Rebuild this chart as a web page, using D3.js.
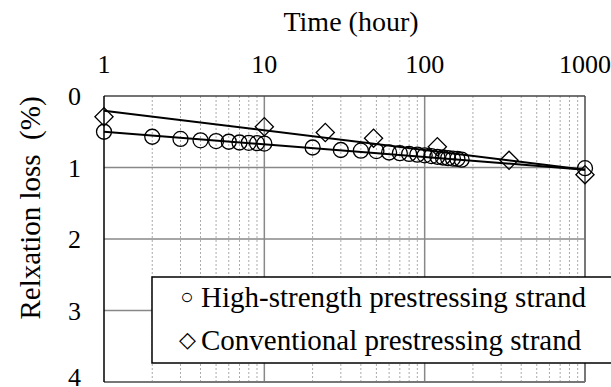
<!DOCTYPE html>
<html>
<head>
<meta charset="utf-8">
<script src="https://cdn.jsdelivr.net/npm/d3@7"></script>
<style>
  body { margin: 0; background: #fff; }
</style>
</head>
<body>
<div id="chart"></div>
<script>
var width = 611,
    height = 387;

// high-strength strand (circles)
var highHours = [1, 2, 3, 4, 5, 6, 7, 8, 9, 10, 20, 30, 40, 50, 60, 70, 80, 90, 100, 110, 120, 130, 140, 150, 160, 170, 1000];
var highLoss  = [0.50, 0.57, 0.60, 0.62, 0.63, 0.64, 0.65, 0.655, 0.66, 0.665, 0.72, 0.755, 0.765, 0.77, 0.79, 0.80, 0.81, 0.82, 0.83, 0.84, 0.85, 0.86, 0.87, 0.875, 0.88, 0.89, 1.01];

// conventional strand (diamonds)
var convHours = [1, 10, 24, 48, 120, 336, 1000];
var convLoss  = [0.29, 0.43, 0.51, 0.59, 0.71, 0.90, 1.10];

// fitted trend lines (end points)
var highFit = [[1, 0.50], [1000, 1.03]];
var convFit = [[1, 0.205], [1000, 1.03]];

var xTicks = [1, 10, 100, 1000];
var yTicks = [0, 1, 2, 3, 4];
var legendLabels = ["High-strength prestressing strand", "Conventional prestressing strand"];
var legendGlyphs = ["\u25CB", "\u25C7"];

var serif = "'Liberation Serif', 'Times New Roman', serif";

var svg = d3.select("#chart").append("svg")
    .attr("width", width)
    .attr("height", height)
    .attr("font-family", serif);

var x = d3.scaleLog().domain([1, 1000]).range([104, 585]);
var y = d3.scaleLinear().domain([0, 4]).range([96, 382]);

// minor grid (dashed)
var minor = [];
[1, 10, 100].forEach(function (dec) {
    for (var k = 2; k <= 9; k++) minor.push(dec * k);
});
svg.selectAll("line.minor")
    .data(minor)
    .enter().append("line")
    .attr("class", "minor")
    .attr("x1", function (d) { return x(d); })
    .attr("x2", function (d) { return x(d); })
    .attr("y1", y(0))
    .attr("y2", y(4))
    .style("stroke", "#aaa")
    .style("stroke-width", 1)
    .style("stroke-dasharray", "2,2");

// major grid
svg.selectAll("line.vmajor")
    .data([10, 100])
    .enter().append("line")
    .attr("class", "vmajor")
    .attr("x1", function (d) { return x(d); })
    .attr("x2", function (d) { return x(d); })
    .attr("y1", y(0))
    .attr("y2", y(4))
    .style("stroke", "#888")
    .style("stroke-width", 1.5);

svg.selectAll("line.hmajor")
    .data([1, 2, 3])
    .enter().append("line")
    .attr("class", "hmajor")
    .attr("x1", x(1))
    .attr("x2", x(1000))
    .attr("y1", function (d) { return y(d); })
    .attr("y2", function (d) { return y(d); })
    .style("stroke", "#888")
    .style("stroke-width", 1.5);

// frame
svg.append("line").attr("x1", x(1000)).attr("x2", x(1000)).attr("y1", y(0)).attr("y2", y(4))
    .style("stroke", "#777").style("stroke-width", 2);
svg.append("line").attr("x1", x(1)).attr("x2", x(1000)).attr("y1", y(4)).attr("y2", y(4))
    .style("stroke", "#777").style("stroke-width", 2);
svg.append("line").attr("x1", x(1)).attr("x2", x(1000)).attr("y1", y(0)).attr("y2", y(0))
    .style("stroke", "#444").style("stroke-width", 1.5);
svg.append("line").attr("x1", x(1)).attr("x2", x(1)).attr("y1", y(0)).attr("y2", y(4))
    .style("stroke", "#000").style("stroke-width", 1.5);

// tick labels
svg.selectAll("text.xt")
    .data(xTicks)
    .enter().append("text")
    .attr("class", "xt")
    .attr("x", function (d) { return x(d); })
    .attr("y", 73)
    .attr("text-anchor", "middle")
    .style("font-size", "26px")
    .text(function (d) { return d; });

svg.selectAll("text.yt")
    .data(yTicks)
    .enter().append("text")
    .attr("class", "yt")
    .attr("x", 81)
    .attr("y", function (d) { return Math.min(y(d) + 9, 386); })
    .attr("text-anchor", "end")
    .style("font-size", "26px")
    .text(function (d) { return d; });

svg.append("text")
    .attr("x", 351)
    .attr("y", 31)
    .attr("text-anchor", "middle")
    .style("font-size", "28px")
    .text("Time (hour)");

svg.append("text")
    .attr("transform", "translate(40,208) rotate(-90)")
    .attr("text-anchor", "middle")
    .style("font-size", "29px")
    .style("white-space", "pre")
    .text("Relxation loss  (%)");

// fit lines
var line = d3.line()
    .x(function (d) { return x(d[0]); })
    .y(function (d) { return y(d[1]); });

[highFit, convFit].forEach(function (f) {
    svg.append("path")
        .attr("d", line(f))
        .style("fill", "none")
        .style("stroke", "#000")
        .style("stroke-width", 2);
});

// markers
svg.selectAll("circle.high")
    .data(highHours)
    .enter().append("circle")
    .attr("class", "high")
    .attr("cx", function (d) { return x(d); })
    .attr("cy", function (d, i) { return y(highLoss[i]); })
    .attr("r", 7.5)
    .style("fill", "none")
    .style("stroke", "#000")
    .style("stroke-width", 1.3);

var diamond = d3.symbol().type(d3.symbolSquare).size(165);
svg.selectAll("path.conv")
    .data(convHours)
    .enter().append("path")
    .attr("class", "conv")
    .attr("d", diamond)
    .attr("transform", function (d, i) {
        return "translate(" + x(d) + "," + y(convLoss[i]) + ") rotate(45)";
    })
    .style("fill", "none")
    .style("stroke", "#000")
    .style("stroke-width", 1.3);

// legend
svg.append("rect")
    .attr("x", 152)
    .attr("y", 277)
    .attr("width", 480)
    .attr("height", 86)
    .style("fill", "#fff")
    .style("stroke", "#000")
    .style("stroke-width", 1.5);

var leg = svg.selectAll("g.legend")
    .data(legendLabels)
    .enter().append("g")
    .attr("class", "legend")
    .attr("transform", function (d, i) { return "translate(0," + (307 + i * 43) + ")"; });

leg.append("text")
    .attr("x", 187)
    .attr("y", -3)
    .attr("text-anchor", "middle")
    .style("font-size", "22px")
    .text(function (d, i) { return legendGlyphs[i]; });

leg.append("text")
    .attr("x", 201)
    .attr("y", 0)
    .style("font-size", "29px")
    .text(function (d) { return d; });
</script>
</body>
</html>
